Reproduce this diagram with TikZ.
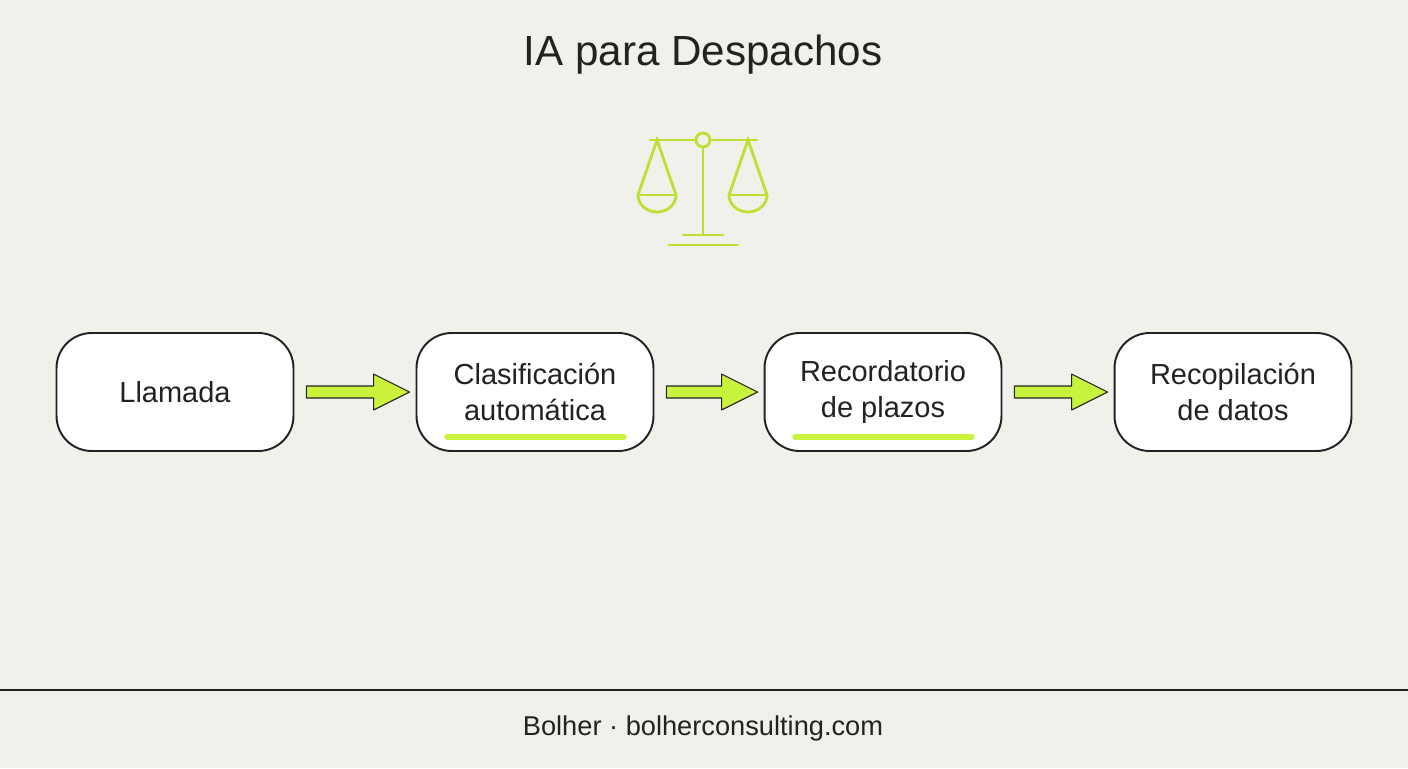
\documentclass[tikz,border=0pt]{standalone}
\usepackage{fontspec}
\setmainfont{Liberation Sans}
\usetikzlibrary{calc}
\definecolor{paper}{HTML}{F1F0EB}
\definecolor{lime}{HTML}{C8F23C}
\definecolor{ink}{HTML}{222222}
\newcommand{\fatarrow}[2]{%
  \draw[ink,line width=0.6pt,fill=lime,line join=round]
    ($(#1.east)+(12,-6)$) -- ($(#2.west)+(-42,-6)$) -- ($(#2.west)+(-42,-18)$)
    -- ($(#2.west)+(-6,0)$) -- ($(#2.west)+(-42,18)$) -- ($(#2.west)+(-42,6)$)
    -- ($(#1.east)+(12,6)$) -- cycle;}
\begin{document}
\begin{tikzpicture}[x=0.02cm,y=-0.02cm]
  \tikzset{
    step box/.style={draw=ink,line width=1.1pt,fill=white,rounded corners=20,
      minimum width=4.74cm,minimum height=2.36cm,align=center,
      font=\fontsize{16.5}{20}\selectfont,text=ink},
    mark line/.style={lime,line width=3pt,line cap=round},
    scale line/.style={lime!85!olive,line width=1.6pt,line cap=round}
  }
  \fill[paper] (0,0) rectangle (1408,768);
  \useasboundingbox (0,0) rectangle (1408,768);
  \node[text=ink,font=\fontsize{24}{28}\selectfont] (title) at (703,55) {IA para Despachos};
  % scale icon
  \draw[scale line] (703,147) -- (703,235);
  \draw[scale line] (650,140) -- (696,140) (710,140) -- (757,140);
  \draw[scale line] (703,140) circle (7);
  \draw[scale line] (638,195) -- (657,140) -- (676,195);
  \draw[scale line] (729,195) -- (748,140) -- (767,195);
  \draw[scale line] (638,195) -- (676,195) (729,195) -- (767,195);
  \draw[scale line] (638,195) arc (180:0:19 and 17);
  \draw[scale line] (729,195) arc (180:0:19 and 17);
  \draw[scale line] (683,235) -- (723,235) (669,245) -- (738,245);
  % steps
  \node[step box] (call) at (175,392) {Llamada};
  \node[step box] (sort) at (535,392) {Clasificación\\automática};
  \node[step box] (remind) at (883,392) {Recordatorio\\de plazos};
  \node[step box] (collect) at (1233,392) {Recopilación\\de datos};
  \draw[mark line] (447,437) -- (624,437);
  \draw[mark line] (795,437) -- (972,437);
  \fatarrow{call}{sort}
  \fatarrow{sort}{remind}
  \fatarrow{remind}{collect}
  % footer
  \coordinate (rule l) at (0,690);
  \coordinate (rule r) at (1408,690);
  \draw[ink,line width=0.8pt] (rule l) -- (rule r);
  \node[text=ink,font=\fontsize{15.5}{18}\selectfont] (foot) at (703,728) {Bolher · bolherconsulting.com};
\end{tikzpicture}
\end{document}
